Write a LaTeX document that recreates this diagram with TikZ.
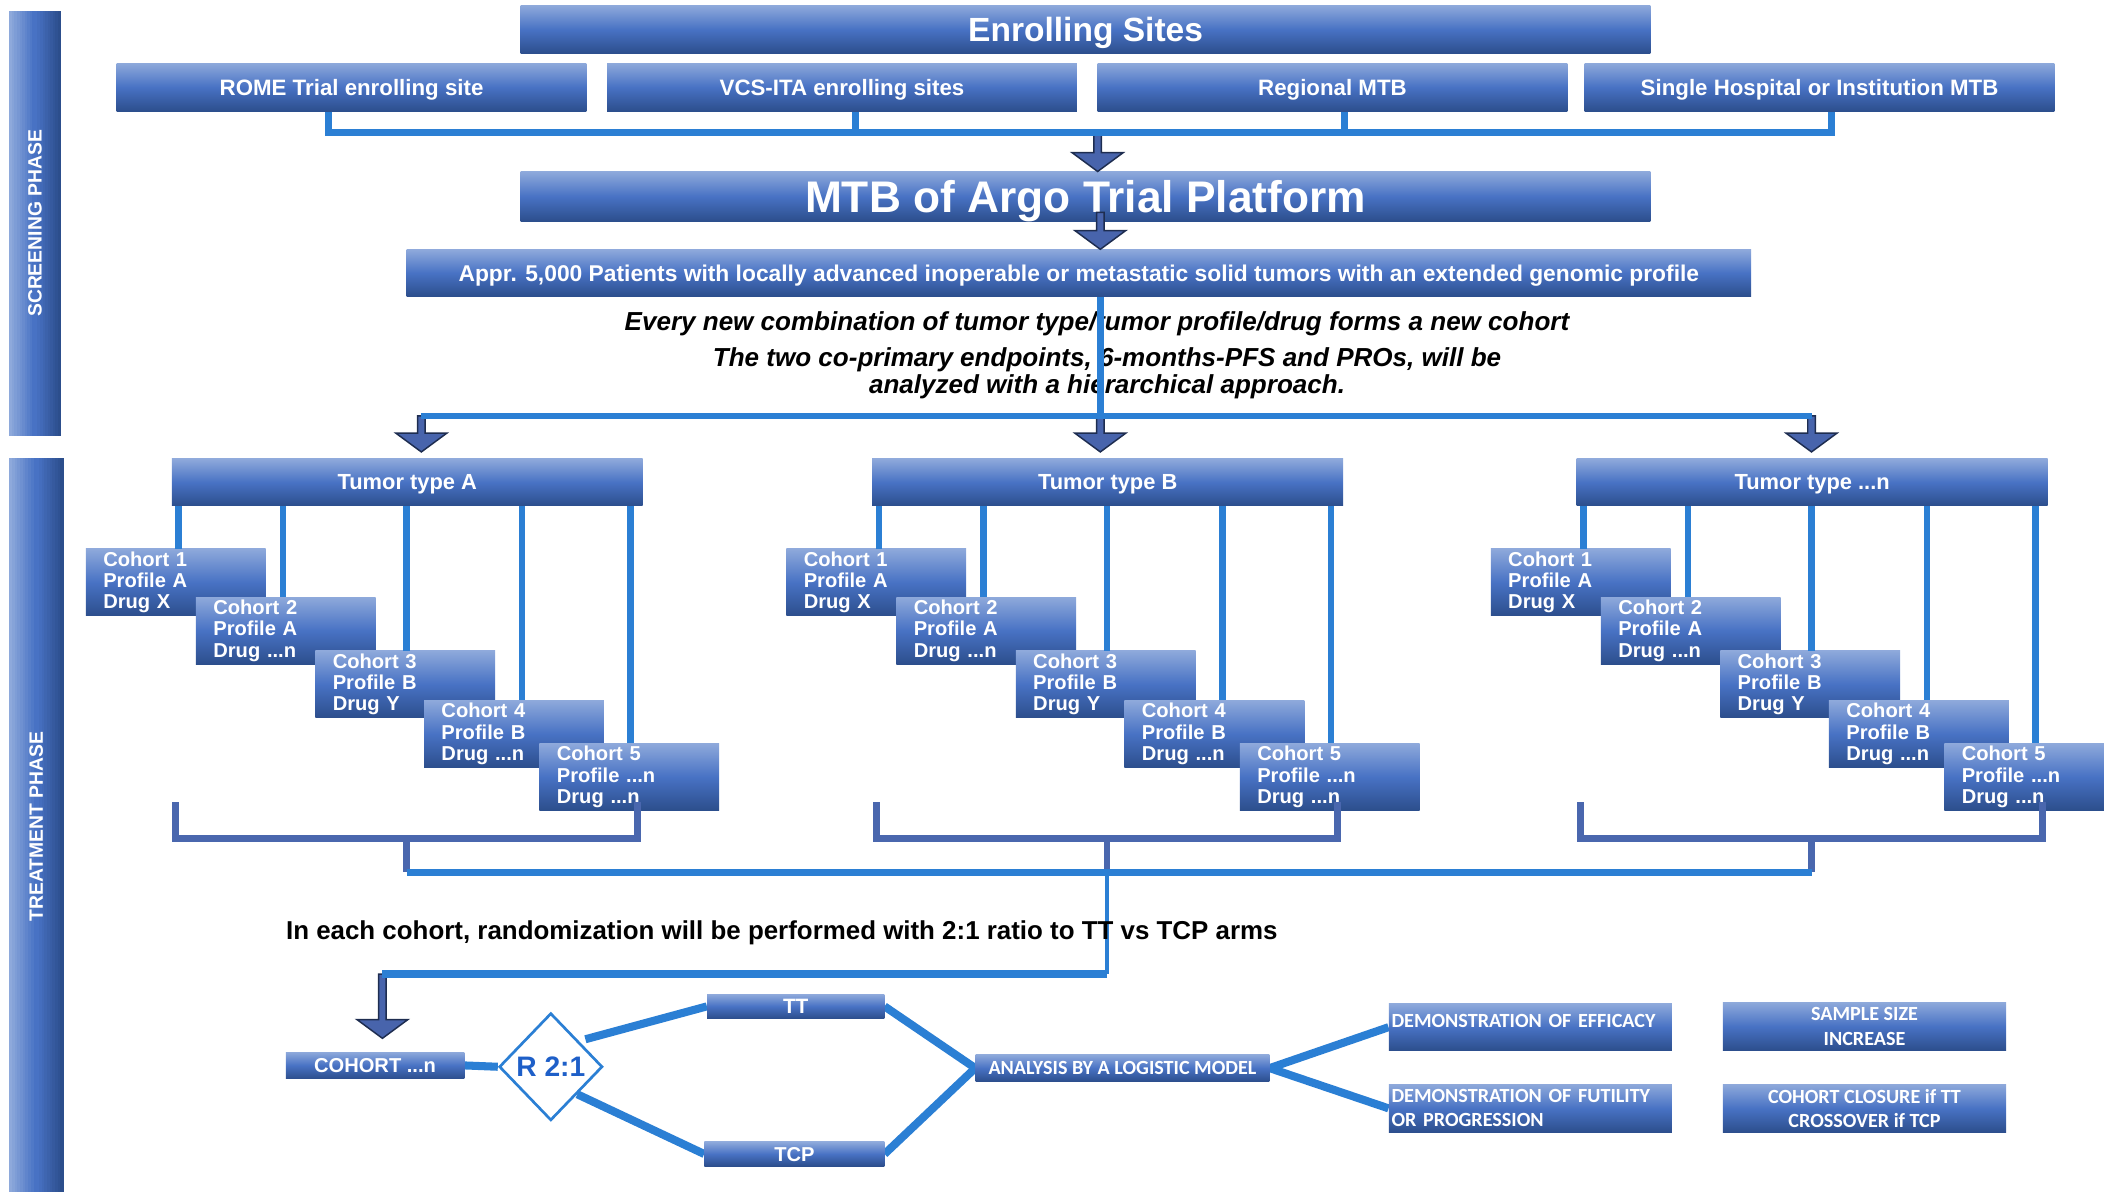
\documentclass[tikz,border=0pt]{standalone}
\usepackage{fontspec}
\setmainfont{Liberation Sans}
\newfontfamily\calibfont{Carlito}
\usepackage{xcolor}
\usetikzlibrary{arrows.meta}
\usetikzlibrary{positioning}
\usetikzlibrary{calc}
\usetikzlibrary{shapes.geometric}
\usetikzlibrary{backgrounds}

\definecolor{boxtop}{RGB}{142,169,219}
\definecolor{boxmid}{RGB}{72,114,196}
\definecolor{boxbot}{RGB}{44,78,140}
\definecolor{linkblue}{RGB}{43,127,212}
\definecolor{bracketblue}{RGB}{74,103,174}
\definecolor{arrowfill}{RGB}{72,100,172}
\definecolor{arrowline}{RGB}{30,45,80}
\definecolor{rblue}{RGB}{30,95,200}

\newcommand{\etcn}{...n}
\newcommand{\blockarrow}[2]{%
    \path (#1) coordinate (ba-s) (#2) coordinate (ba-t);
    \filldraw[arrowbody] ($(ba-s)+(-2.8,0)$) -- ($(ba-t)+(-2.8,-14)$) -- ($(ba-t)+(-19,-14)$)
        -- (ba-t) -- ($(ba-t)+(19,-14)$) -- ($(ba-t)+(2.8,-14)$) -- ($(ba-s)+(2.8,0)$) -- cycle;
}
% left-to-right gradient strip: x0, y0, x1, y1
\newcommand{\phasebar}[4]{%
    \foreach \k in {0,...,19} {
        \pgfmathsetmacro\xa{#1+(#3-#1)*\k/20}
        \pgfmathsetmacro\xb{#1+(#3-#1)*(\k+1)/20+0.4}
        \ifnum\k<10
            \pgfmathtruncatemacro\pct{\k*100/9}
            \fill[boxmid!\pct!boxtop] (\xa,#2) rectangle (\xb,#4);
        \else
            \pgfmathtruncatemacro\pct{(\k-10)*100/9}
            \fill[boxbot!\pct!boxmid] (\xa,#2) rectangle (\xb,#4);
        \fi
    }
}

\tikzset{
    box/.style={top color=boxtop, bottom color=boxbot, middle color=boxmid, text=white, font=\bfseries, inner sep=0pt},
    bar/.style={box, text depth=0pt},
    phase/.style={text=white, inner sep=0pt, font=\bfseries\fontsize{14.4}{17}\selectfont},
    link/.style={draw=linkblue, line width=5pt},
    arm/.style={draw=linkblue, line width=6pt},
    bracket/.style={draw=bracketblue, line width=5pt},
    arrowbody/.style={fill=arrowfill, draw=arrowline, line width=1.1pt},
    cohort/.style={box, minimum width=134pt, minimum height=50pt, text width=108pt, align=left, font=\bfseries\fontsize{15}{16}\selectfont},
    smallbox/.style={box, minimum width=211pt, minimum height=36pt, font=\calibfont\bfseries\fontsize{15}{18}\selectfont},
    note/.style={text=black, inner sep=0pt, font=\bfseries\itshape\fontsize{19.4}{20}\selectfont}
}

\begin{document}
\begin{tikzpicture}[x=1pt, y=-1pt]
    \useasboundingbox (0,0) rectangle (1568,888);
    \clip (0,0) rectangle (1568,888);

    \phasebar{7}{8}{45}{325}
    \phasebar{7}{341}{47}{888}
    \node[phase] (screen) at (26,166.5) {\rotatebox{90}{SCREENING PHASE}};
    \node[phase] (treat) at (27,616) {\rotatebox{90}{TREATMENT PHASE}};

    \node[bar, minimum width=842pt, minimum height=36pt, font=\bfseries\fontsize{25}{30}\selectfont] (enroll) at (809,22) {Enrolling Sites};
    \foreach \n/\cx/\txt in {1/262/ROME Trial enrolling site, 2/627.5/VCS-ITA enrolling sites, 3/993/Regional MTB, 4/1356/Single Hospital or Institution MTB}
        \node[bar, minimum width=350pt, minimum height=36pt, font=\bfseries\fontsize{16.6}{20}\selectfont] (site\n) at (\cx,65) {\txt};

    \node[bar, minimum width=842pt, minimum height=37pt, font=\bfseries\fontsize{33}{38}\selectfont] (mtb) at (809,146.5) {MTB of Argo Trial Platform};
    \node[bar, minimum width=1002pt, minimum height=35pt, font=\bfseries\fontsize{17}{20}\selectfont] (pat) at (804,203.5) {Appr. 5,000 Patients with locally advanced inoperable or metastatic solid tumors with an extended genomic profile};

    \node[note] (every) at (817.5,241) {Every new combination of tumor type/tumor profile/drug forms a new cohort};
    \node[note, align=center] (endp) at (825,278) {The two co-primary endpoints, 6-months-PFS and PROs, will be\\analyzed with a hierarchical approach.};

    \coordinate (hub) at (818,99);
    \coordinate (axis) at (820,310);
    \coordinate (splitA) at (314,310);
    \coordinate (splitN) at (1350,310);

    \blockarrow{hub}{hub |- mtb.north}
    \draw[link] ([xshift=-17pt]site1.south) |- (hub) -| ([xshift=9pt]site4.south);
    \draw[link] ([xshift=10pt]site2.south) -- ([xshift=10pt]site2.south |- hub);
    \draw[link] ([xshift=9pt]site3.south) -- ([xshift=9pt]site3.south |- hub);
    \blockarrow{[yshift=7pt]mtb.south -| axis}{pat.north -| axis}

    \foreach \g/\off/\tname in {A/0/A, B/522/B, N/1047/\etcn} {
        \node[bar, minimum width=351pt, minimum height=35pt, font=\bfseries\fontsize{16.3}{20}\selectfont] (t\g) at (303.5+\off,359.5) {Tumor type \tname};
        \foreach \i/\cx/\cy/\dx/\pr/\dr in {1/131/434/2/A/X, 2/213/470/-2/A/\etcn, 3/302/510/1/B/Y, 4/383/547/6/B/\etcn, 5/469/579/1/\etcn/\etcn} {
            \node[cohort] (c\g\i) at (\cx+\off,\cy) {Cohort \i\\Profile \pr\\Drug \dr};
            \draw[link] ([xshift=\dx pt]t\g.south -| c\g\i.north) -- ([xshift=\dx pt]c\g\i.north);
        }
        \coordinate (j\g) at (303+\off,650);
        \draw[bracket] (131+\off,598) |- (475+\off,625) -- (475+\off,598);
        \draw[bracket] (j\g |- 0,625) -- (j\g);
    }

    \blockarrow{splitA}{[yshift=5pt]tA.north -| splitA}
    \blockarrow{axis}{[yshift=5pt]tB.north -| axis}
    \blockarrow{splitN}{[yshift=5pt]tN.north -| splitN}
    \draw[link] (pat.south -| axis) -- (axis);
    \draw[link] (splitA) -- (splitN);

    \coordinate (turn) at (285,726);
    \draw[link] (jA) -- (jN);
    \draw[link, line width=3.5pt] (jB) -- (jB |- turn);
    \node[note, anchor=west, font=\bfseries\fontsize{19.3}{22}\selectfont] (ratio) at (213,695) {In each cohort, randomization will be performed with 2:1 ratio to TT vs TCP arms};

    \node[bar, minimum width=133pt, minimum height=20pt, font=\bfseries\fontsize{15}{18}\selectfont] (coh) at (279.5,794) {COHORT \etcn};
    \blockarrow{turn}{[yshift=10pt]coh.north -| turn}
    \draw[arm] (jB |- turn) -- (turn);

    \node[diamond, draw=linkblue, line width=2pt, fill=white, minimum width=77pt, minimum height=80pt, inner sep=0pt, text=rblue, font=\bfseries\fontsize{21}{25}\selectfont] (rand) at (410.5,795) {R 2:1};
    \node[bar, minimum width=132pt, minimum height=18pt, font=\bfseries\fontsize{15.5}{18}\selectfont] (tt) at (593,750) {TT};
    \node[bar, minimum width=134pt, minimum height=18pt, font=\bfseries\fontsize{15}{18}\selectfont] (tcp) at (592,860) {TCP};
    \node[bar, minimum width=219pt, minimum height=20pt, font=\calibfont\bfseries\fontsize{15}{18}\selectfont] (logit) at (836.5,796) {ANALYSIS BY A LOGISTIC MODEL};
    \node[smallbox, minimum height=35pt, text width=207pt, align=left, text depth=10pt] (eff) at (1140.5,765.5) {DEMONSTRATION OF EFFICACY};
    \node[smallbox, text width=207pt, align=left] (fut) at (1140.5,826) {DEMONSTRATION OF FUTILITY\\OR PROGRESSION};
    \node[smallbox, align=center] (sample) at (1389.5,765) {SAMPLE SIZE\\INCREASE};
    \node[smallbox, align=center] (closure) at (1389.5,826) {COHORT CLOSURE if TT\\CROSSOVER if TCP};

    \begin{scope}[on background layer]
        \draw[arm] (coh.east) -- (rand.west);
        \draw[arm] ([xshift=6pt]rand.north east) -- (tt.west);
        \draw[arm] (rand.south east) -- (tcp.west);
        \draw[arm] (tt.east) -- (logit.west);
        \draw[arm] (tcp.east) -- (logit.west);
        \draw[arm] (logit.east) -- (eff.west);
        \draw[arm] (logit.east) -- (fut.west);
    \end{scope}
\end{tikzpicture}
\end{document}
